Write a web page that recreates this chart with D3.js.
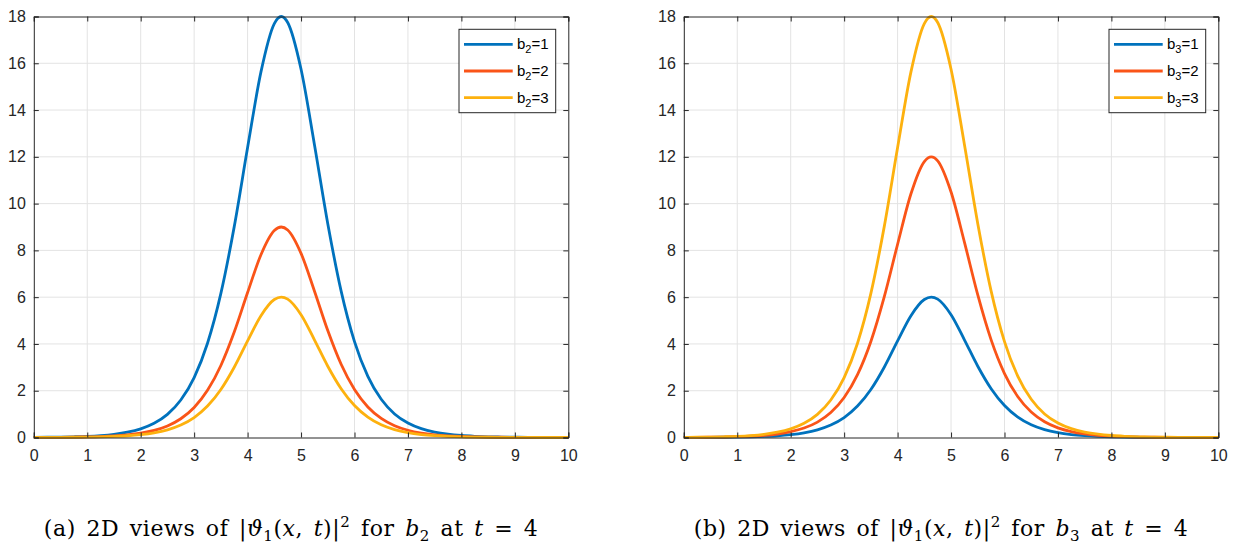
<!DOCTYPE html>
<html>
<head>
<meta charset="utf-8">
<script src="https://cdn.jsdelivr.net/npm/d3@7"></script>
<style>
  body { margin: 0; background: #fff; }
  svg { display: block; }
</style>
</head>
<body>
<svg id="chart" width="1235" height="547"></svg>
<script>
const xs = [0, 0.25, 0.5, 0.75, 1, 1.25, 1.5, 1.75, 2, 2.25, 2.5, 2.75, 3, 3.25, 3.5, 3.75, 4, 4.25, 4.5,
  4.63, 4.75, 5, 5.25, 5.5, 5.75, 6, 6.25, 6.5, 6.75, 7, 7.25, 7.5, 7.75, 8, 8.25, 8.5, 8.75, 9, 9.25, 9.5, 9.75, 10];

// panel (a): curves for b2 = 1, 2, 3
const b2_1 = [0.007, 0.011, 0.018, 0.031, 0.050, 0.083, 0.137, 0.225, 0.371, 0.607, 0.988, 1.602, 2.563, 4.030, 6.160, 9.016, 12.395, 15.631, 17.699,
  18.0, 17.744, 15.743, 12.532, 9.144, 6.260, 4.102, 2.612, 1.633, 1.008, 0.619, 0.378, 0.230, 0.140, 0.085, 0.052, 0.031, 0.020, 0.011, 0.007, 0.004, 0.002, 0.002];
const b2_2 = [0.004, 0.005, 0.009, 0.015, 0.025, 0.041, 0.068, 0.113, 0.185, 0.303, 0.494, 0.801, 1.282, 2.015, 3.080, 4.508, 6.197, 7.816, 8.850,
  9.0, 8.872, 7.871, 6.266, 4.572, 3.130, 2.051, 1.306, 0.816, 0.504, 0.310, 0.189, 0.115, 0.070, 0.042, 0.026, 0.015, 0.010, 0.005, 0.004, 0.002, 0.001, 0.001];
const b2_3 = [0.002, 0.004, 0.006, 0.010, 0.017, 0.028, 0.046, 0.075, 0.124, 0.202, 0.329, 0.534, 0.854, 1.343, 2.053, 3.005, 4.132, 5.210, 5.900,
  6.0, 5.915, 5.248, 4.177, 3.048, 2.087, 1.367, 0.871, 0.544, 0.336, 0.206, 0.126, 0.077, 0.047, 0.028, 0.017, 0.010, 0.007, 0.004, 0.002, 0.001, 0.001, 0.001];

// panel (b): curves for b3 = 1, 2, 3
const b3_1 = [0.002, 0.004, 0.006, 0.010, 0.017, 0.028, 0.046, 0.075, 0.124, 0.202, 0.329, 0.534, 0.854, 1.343, 2.053, 3.005, 4.132, 5.210, 5.900,
  6.0, 5.915, 5.248, 4.177, 3.048, 2.087, 1.367, 0.871, 0.544, 0.336, 0.206, 0.126, 0.077, 0.047, 0.028, 0.017, 0.010, 0.007, 0.004, 0.002, 0.001, 0.001, 0.001];
const b3_2 = [0.005, 0.007, 0.012, 0.020, 0.034, 0.055, 0.091, 0.150, 0.247, 0.404, 0.659, 1.068, 1.709, 2.687, 4.106, 6.011, 8.263, 10.421, 11.800,
  12.0, 11.830, 10.495, 8.354, 6.096, 4.174, 2.735, 1.741, 1.088, 0.672, 0.413, 0.252, 0.154, 0.094, 0.056, 0.035, 0.020, 0.013, 0.007, 0.005, 0.002, 0.001, 0.001];
const b3_3 = [0.007, 0.011, 0.018, 0.031, 0.050, 0.083, 0.137, 0.225, 0.371, 0.607, 0.988, 1.602, 2.563, 4.030, 6.160, 9.016, 12.395, 15.631, 17.699,
  18.0, 17.744, 15.743, 12.532, 9.144, 6.260, 4.102, 2.612, 1.633, 1.008, 0.619, 0.378, 0.230, 0.140, 0.085, 0.052, 0.031, 0.020, 0.011, 0.007, 0.004, 0.002, 0.002];

const xTicks = [0, 1, 2, 3, 4, 5, 6, 7, 8, 9, 10];
const yTicks = [0, 2, 4, 6, 8, 10, 12, 14, 16, 18];
const seriesLevels = ["1", "2", "3"];
const colors = ["#0072BD", "#FA5418", "#FDB10E"];

const panels = [
  { left: 33.8, sub: "2", letter: "(a)", series: [b2_1, b2_2, b2_3] },
  { left: 683.8, sub: "3", letter: "(b)", series: [b3_1, b3_2, b3_3] }
];

const plotW = 534.5,
  plotTop = 16.5,
  plotH = 421,
  tickLen = 5,
  sans = "'Liberation Sans', Arial, sans-serif",
  serif = "'DejaVu Serif', serif";

const svg = d3.select("#chart");

panels.forEach(p => {
  const x = d3.scaleLinear().domain([0, 10]).range([p.left, p.left + plotW]);
  const y = d3.scaleLinear().domain([0, 18]).range([plotTop + plotH, plotTop]);
  const g = svg.append("g");

  // grid
  g.append("g")
    .selectAll("line")
    .data(xTicks.slice(1, -1))
    .enter()
    .append("line")
    .attr("x1", d => x(d)).attr("x2", d => x(d))
    .attr("y1", plotTop).attr("y2", plotTop + plotH)
    .attr("stroke", "#e3e3e3").attr("stroke-width", 1);
  g.append("g")
    .selectAll("line")
    .data(yTicks.slice(1, -1))
    .enter()
    .append("line")
    .attr("x1", p.left).attr("x2", p.left + plotW)
    .attr("y1", d => y(d)).attr("y2", d => y(d))
    .attr("stroke", "#e3e3e3").attr("stroke-width", 1);

  // curves
  const line = d3.line()
    .x((d, i) => x(xs[i]))
    .y(d => y(d))
    .curve(d3.curveMonotoneX);
  p.series.forEach((s, i) => {
    g.append("path")
      .datum(s)
      .attr("d", line)
      .attr("fill", "none")
      .attr("stroke", colors[i])
      .attr("stroke-width", 2.8)
      .attr("stroke-linejoin", "round");
  });

  // axes (ticks inward, box on)
  const bottomAx = d3.axisBottom(x).tickValues(xTicks).tickSize(-tickLen).tickPadding(12).tickFormat(d3.format("d"));
  const leftAx = d3.axisLeft(y).tickValues(yTicks).tickSize(-tickLen).tickPadding(8).tickFormat(d3.format("d"));
  const topAx = d3.axisTop(x).tickValues(xTicks).tickSize(-tickLen).tickFormat("");
  const rightAx = d3.axisRight(y).tickValues(yTicks).tickSize(-tickLen).tickFormat("");

  [[bottomAx, `translate(0,${plotTop + plotH})`], [leftAx, `translate(${p.left},0)`],
   [topAx, `translate(0,${plotTop})`], [rightAx, `translate(${p.left + plotW},0)`]].forEach(([ax, tr]) => {
    const a = g.append("g").attr("transform", tr).call(ax);
    a.attr("font-family", sans).attr("font-size", 16);
    a.select(".domain").attr("stroke", "#262626").attr("stroke-width", 1);
    a.selectAll(".tick line").attr("stroke", "#262626");
    a.selectAll(".tick text").attr("fill", "#262626");
  });

  // legend
  const lx = p.left + 425.2, ly = 29.3;
  const legend = g.append("g").attr("font-family", sans).attr("font-size", 15);
  legend.append("rect")
    .attr("x", lx).attr("y", ly).attr("width", 96.7).attr("height", 83.4)
    .attr("fill", "#fff").attr("stroke", "#262626").attr("stroke-width", 1);
  seriesLevels.forEach((lv, i) => {
    const yy = ly + 15 + i * 26.7;
    legend.append("line")
      .attr("x1", lx + 5).attr("x2", lx + 53.7)
      .attr("y1", yy).attr("y2", yy)
      .attr("stroke", colors[i]).attr("stroke-width", 2.8);
    const t = legend.append("text").attr("x", lx + 58).attr("y", yy + 5);
    t.append("tspan").text("b");
    t.append("tspan").attr("dy", 4).attr("font-size", 11).text(p.sub);
    t.append("tspan").attr("dy", -4).text("=" + lv);
  });

  // caption
  const cx = p.left + 257;
  const cap = g.append("text")
    .attr("font-family", serif).attr("font-size", 22)
    .attr("word-spacing", 3)
    .attr("x", cx).attr("y", 536).attr("text-anchor", "middle")
    .attr("textLength", 494).attr("lengthAdjust", "spacing");
  cap.append("tspan").text(p.letter + " 2D views of |");
  cap.append("tspan").attr("font-style", "italic").text("ϑ");
  cap.append("tspan").attr("dy", 5).attr("font-size", 15).text("1");
  cap.append("tspan").attr("dy", -5).text("(");
  cap.append("tspan").attr("font-style", "italic").text("x");
  cap.append("tspan").text(", ");
  cap.append("tspan").attr("font-style", "italic").text("t");
  cap.append("tspan").text(")|");
  cap.append("tspan").attr("dy", -9).attr("font-size", 15).text("2");
  cap.append("tspan").attr("dy", 9).text(" for ");
  cap.append("tspan").attr("font-style", "italic").text("b");
  cap.append("tspan").attr("dy", 5).attr("font-size", 15).text(p.sub);
  cap.append("tspan").attr("dy", -5).text(" at ");
  cap.append("tspan").attr("font-style", "italic").text("t");
  cap.append("tspan").text(" = 4");
});
</script>
</body>
</html>
